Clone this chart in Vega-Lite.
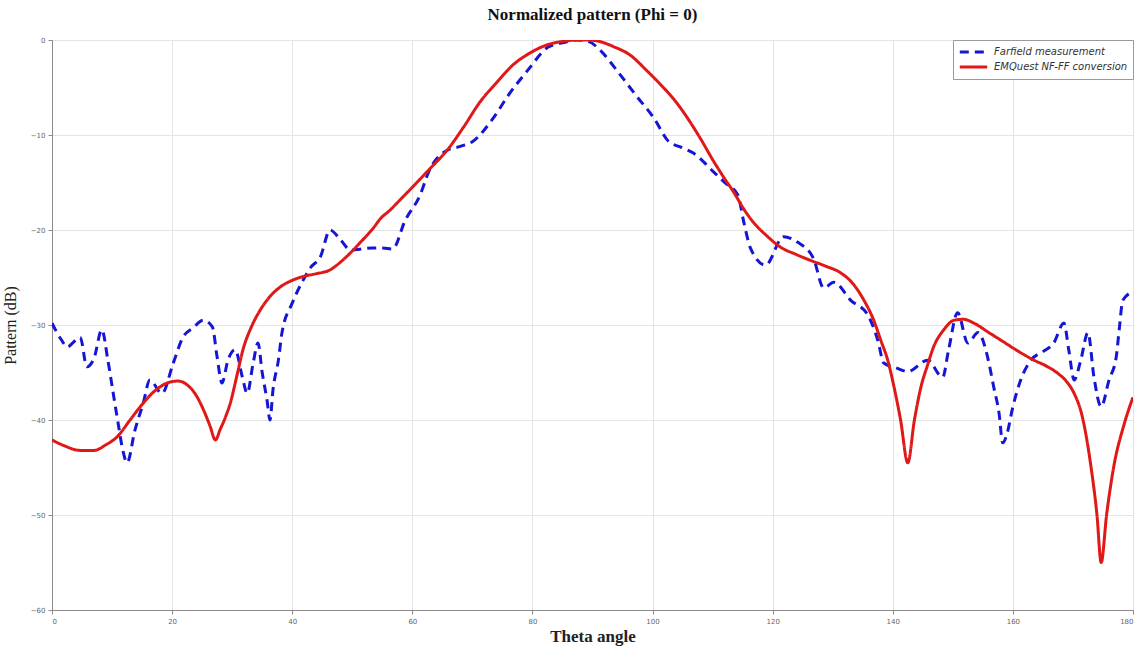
{
  "$schema": "https://vega.github.io/schema/vega-lite/v6.json",
  "autosize": "none",
  "width": 1081,
  "height": 570,
  "padding": {"left": 52, "top": 40, "right": 10, "bottom": 42},
  "background": "white",
  "title": {
    "text": "Normalized pattern (Phi = 0)",
    "font": "Liberation Serif",
    "fontSize": 17,
    "fontWeight": "bold",
    "color": "#111",
    "anchor": "middle",
    "offset": 12
  },
  "config": {
    "view": {"stroke": "#9a9a9a", "strokeWidth": 1},
    "axis": {
      "domainColor": "#8a8a8a",
      "gridColor": "#e4e4e4",
      "tickColor": "#8a8a8a",
      "labelColor": "#666",
      "labelFont": "DejaVu Sans",
      "labelFontSize": 7,
      "titleFont": "Liberation Serif",
      "titleColor": "#222"
    },
    "legend": {
      "fillColor": "white",
      "strokeColor": "#9a9a9a",
      "padding": 5,
      "rowPadding": 1,
      "clipHeight": 14,
      "symbolType": "stroke",
      "symbolSize": 750,
      "symbolStrokeWidth": 3,
      "labelFont": "DejaVu Sans",
      "labelFontSize": 10,
      "labelFontStyle": "italic",
      "labelColor": "#333",
      "labelOffset": 5
    }
  },
  "data": {
    "values": [
      {"series": "Farfield measurement", "theta": 0, "db": -29.8},
      {"series": "Farfield measurement", "theta": 1.5, "db": -31.5},
      {"series": "Farfield measurement", "theta": 2.5, "db": -32.3},
      {"series": "Farfield measurement", "theta": 4.7, "db": -31.3},
      {"series": "Farfield measurement", "theta": 5.8, "db": -34.4},
      {"series": "Farfield measurement", "theta": 7, "db": -33.5},
      {"series": "Farfield measurement", "theta": 8.3, "db": -30.5},
      {"series": "Farfield measurement", "theta": 9.3, "db": -33.7},
      {"series": "Farfield measurement", "theta": 10.2, "db": -37.2},
      {"series": "Farfield measurement", "theta": 11, "db": -40.3},
      {"series": "Farfield measurement", "theta": 11.8, "db": -43.2},
      {"series": "Farfield measurement", "theta": 12.5, "db": -44.5},
      {"series": "Farfield measurement", "theta": 13.8, "db": -41.1},
      {"series": "Farfield measurement", "theta": 15.2, "db": -38.2},
      {"series": "Farfield measurement", "theta": 16.3, "db": -35.8},
      {"series": "Farfield measurement", "theta": 18.3, "db": -37.2},
      {"series": "Farfield measurement", "theta": 20.2, "db": -34},
      {"series": "Farfield measurement", "theta": 21.8, "db": -31.3},
      {"series": "Farfield measurement", "theta": 23.5, "db": -30.3},
      {"series": "Farfield measurement", "theta": 25.2, "db": -29.5},
      {"series": "Farfield measurement", "theta": 26.7, "db": -30.2},
      {"series": "Farfield measurement", "theta": 27.5, "db": -33.4},
      {"series": "Farfield measurement", "theta": 28.3, "db": -36.1},
      {"series": "Farfield measurement", "theta": 29.3, "db": -33.7},
      {"series": "Farfield measurement", "theta": 30.5, "db": -32.6},
      {"series": "Farfield measurement", "theta": 31.7, "db": -35.5},
      {"series": "Farfield measurement", "theta": 32.5, "db": -37.2},
      {"series": "Farfield measurement", "theta": 33.5, "db": -34},
      {"series": "Farfield measurement", "theta": 34.3, "db": -31.9},
      {"series": "Farfield measurement", "theta": 35, "db": -35},
      {"series": "Farfield measurement", "theta": 35.8, "db": -37.9},
      {"series": "Farfield measurement", "theta": 36.3, "db": -40},
      {"series": "Farfield measurement", "theta": 36.8, "db": -36.8},
      {"series": "Farfield measurement", "theta": 37.7, "db": -33.7},
      {"series": "Farfield measurement", "theta": 38.3, "db": -30.8},
      {"series": "Farfield measurement", "theta": 40, "db": -27.7},
      {"series": "Farfield measurement", "theta": 41.8, "db": -25.3},
      {"series": "Farfield measurement", "theta": 43, "db": -24},
      {"series": "Farfield measurement", "theta": 44.7, "db": -22.8},
      {"series": "Farfield measurement", "theta": 46.3, "db": -20},
      {"series": "Farfield measurement", "theta": 48, "db": -21},
      {"series": "Farfield measurement", "theta": 49.7, "db": -22.1},
      {"series": "Farfield measurement", "theta": 51.5, "db": -22},
      {"series": "Farfield measurement", "theta": 53.3, "db": -21.9},
      {"series": "Farfield measurement", "theta": 55, "db": -21.9},
      {"series": "Farfield measurement", "theta": 56.7, "db": -22},
      {"series": "Farfield measurement", "theta": 58.8, "db": -19},
      {"series": "Farfield measurement", "theta": 61.3, "db": -16.3},
      {"series": "Farfield measurement", "theta": 62.7, "db": -13.9},
      {"series": "Farfield measurement", "theta": 65.8, "db": -11.6},
      {"series": "Farfield measurement", "theta": 68, "db": -11.2},
      {"series": "Farfield measurement", "theta": 70, "db": -10.7},
      {"series": "Farfield measurement", "theta": 73.5, "db": -8.2},
      {"series": "Farfield measurement", "theta": 76, "db": -5.8},
      {"series": "Farfield measurement", "theta": 79.2, "db": -3.2},
      {"series": "Farfield measurement", "theta": 82.5, "db": -0.8},
      {"series": "Farfield measurement", "theta": 85, "db": -0.3},
      {"series": "Farfield measurement", "theta": 87.5, "db": 0},
      {"series": "Farfield measurement", "theta": 89.5, "db": -0.2},
      {"series": "Farfield measurement", "theta": 91.3, "db": -1.1},
      {"series": "Farfield measurement", "theta": 94.3, "db": -3.4},
      {"series": "Farfield measurement", "theta": 97.2, "db": -5.8},
      {"series": "Farfield measurement", "theta": 100.2, "db": -8.2},
      {"series": "Farfield measurement", "theta": 102.7, "db": -10.7},
      {"series": "Farfield measurement", "theta": 104.8, "db": -11.3},
      {"series": "Farfield measurement", "theta": 106.8, "db": -11.9},
      {"series": "Farfield measurement", "theta": 110.2, "db": -13.9},
      {"series": "Farfield measurement", "theta": 112, "db": -15},
      {"series": "Farfield measurement", "theta": 114.2, "db": -16.3},
      {"series": "Farfield measurement", "theta": 115.2, "db": -19.2},
      {"series": "Farfield measurement", "theta": 116.3, "db": -21.9},
      {"series": "Farfield measurement", "theta": 118.8, "db": -23.7},
      {"series": "Farfield measurement", "theta": 121.8, "db": -20.7},
      {"series": "Farfield measurement", "theta": 124.2, "db": -21.3},
      {"series": "Farfield measurement", "theta": 126.8, "db": -23},
      {"series": "Farfield measurement", "theta": 128.5, "db": -26.1},
      {"series": "Farfield measurement", "theta": 130.2, "db": -25.5},
      {"series": "Farfield measurement", "theta": 133, "db": -27.4},
      {"series": "Farfield measurement", "theta": 135.8, "db": -28.9},
      {"series": "Farfield measurement", "theta": 137.5, "db": -31.6},
      {"series": "Farfield measurement", "theta": 138.5, "db": -34},
      {"series": "Farfield measurement", "theta": 140.5, "db": -34.5},
      {"series": "Farfield measurement", "theta": 142.5, "db": -34.9},
      {"series": "Farfield measurement", "theta": 145.8, "db": -33.7},
      {"series": "Farfield measurement", "theta": 148.3, "db": -35.5},
      {"series": "Farfield measurement", "theta": 149.3, "db": -32.6},
      {"series": "Farfield measurement", "theta": 150.8, "db": -28.7},
      {"series": "Farfield measurement", "theta": 152.5, "db": -31.9},
      {"series": "Farfield measurement", "theta": 154.2, "db": -30.8},
      {"series": "Farfield measurement", "theta": 155.8, "db": -33.4},
      {"series": "Farfield measurement", "theta": 156.8, "db": -36.5},
      {"series": "Farfield measurement", "theta": 157.7, "db": -39.3},
      {"series": "Farfield measurement", "theta": 158.3, "db": -42.4},
      {"series": "Farfield measurement", "theta": 159, "db": -41.5},
      {"series": "Farfield measurement", "theta": 160, "db": -38.6},
      {"series": "Farfield measurement", "theta": 161.3, "db": -35.8},
      {"series": "Farfield measurement", "theta": 163, "db": -33.7},
      {"series": "Farfield measurement", "theta": 165, "db": -32.8},
      {"series": "Farfield measurement", "theta": 166.8, "db": -31.9},
      {"series": "Farfield measurement", "theta": 168.5, "db": -29.8},
      {"series": "Farfield measurement", "theta": 169.3, "db": -32.6},
      {"series": "Farfield measurement", "theta": 170.2, "db": -35.8},
      {"series": "Farfield measurement", "theta": 171.3, "db": -33.7},
      {"series": "Farfield measurement", "theta": 172.5, "db": -30.8},
      {"series": "Farfield measurement", "theta": 173.5, "db": -35.5},
      {"series": "Farfield measurement", "theta": 174.7, "db": -38.6},
      {"series": "Farfield measurement", "theta": 176, "db": -35.8},
      {"series": "Farfield measurement", "theta": 177.2, "db": -33.4},
      {"series": "Farfield measurement", "theta": 177.7, "db": -30.5},
      {"series": "Farfield measurement", "theta": 178.3, "db": -27.4},
      {"series": "Farfield measurement", "theta": 180, "db": -26.5},

      {"series": "EMQuest NF-FF conversion", "theta": 0, "db": -42.1},
      {"series": "EMQuest NF-FF conversion", "theta": 2, "db": -42.7},
      {"series": "EMQuest NF-FF conversion", "theta": 4.7, "db": -43.2},
      {"series": "EMQuest NF-FF conversion", "theta": 7, "db": -43.2},
      {"series": "EMQuest NF-FF conversion", "theta": 9, "db": -42.6},
      {"series": "EMQuest NF-FF conversion", "theta": 10.8, "db": -41.8},
      {"series": "EMQuest NF-FF conversion", "theta": 13, "db": -40},
      {"series": "EMQuest NF-FF conversion", "theta": 14.7, "db": -38.6},
      {"series": "EMQuest NF-FF conversion", "theta": 17, "db": -37},
      {"series": "EMQuest NF-FF conversion", "theta": 19.7, "db": -36},
      {"series": "EMQuest NF-FF conversion", "theta": 21, "db": -35.9},
      {"series": "EMQuest NF-FF conversion", "theta": 22.5, "db": -36.3},
      {"series": "EMQuest NF-FF conversion", "theta": 24, "db": -37.4},
      {"series": "EMQuest NF-FF conversion", "theta": 25.2, "db": -38.9},
      {"series": "EMQuest NF-FF conversion", "theta": 26.3, "db": -40.6},
      {"series": "EMQuest NF-FF conversion", "theta": 27.2, "db": -42.1},
      {"series": "EMQuest NF-FF conversion", "theta": 28, "db": -41},
      {"series": "EMQuest NF-FF conversion", "theta": 29, "db": -39.5},
      {"series": "EMQuest NF-FF conversion", "theta": 29.7, "db": -38.2},
      {"series": "EMQuest NF-FF conversion", "theta": 30.8, "db": -35.3},
      {"series": "EMQuest NF-FF conversion", "theta": 31.8, "db": -32.6},
      {"series": "EMQuest NF-FF conversion", "theta": 33.2, "db": -30.2},
      {"series": "EMQuest NF-FF conversion", "theta": 34.7, "db": -28.4},
      {"series": "EMQuest NF-FF conversion", "theta": 36.3, "db": -27},
      {"series": "EMQuest NF-FF conversion", "theta": 38, "db": -26},
      {"series": "EMQuest NF-FF conversion", "theta": 40, "db": -25.3},
      {"series": "EMQuest NF-FF conversion", "theta": 41.8, "db": -24.9},
      {"series": "EMQuest NF-FF conversion", "theta": 44, "db": -24.6},
      {"series": "EMQuest NF-FF conversion", "theta": 46.3, "db": -24.2},
      {"series": "EMQuest NF-FF conversion", "theta": 48, "db": -23.4},
      {"series": "EMQuest NF-FF conversion", "theta": 49.7, "db": -22.4},
      {"series": "EMQuest NF-FF conversion", "theta": 51.5, "db": -21.2},
      {"series": "EMQuest NF-FF conversion", "theta": 53.5, "db": -19.8},
      {"series": "EMQuest NF-FF conversion", "theta": 54.7, "db": -18.8},
      {"series": "EMQuest NF-FF conversion", "theta": 56.3, "db": -17.9},
      {"series": "EMQuest NF-FF conversion", "theta": 58, "db": -16.8},
      {"series": "EMQuest NF-FF conversion", "theta": 60, "db": -15.5},
      {"series": "EMQuest NF-FF conversion", "theta": 63, "db": -13.5},
      {"series": "EMQuest NF-FF conversion", "theta": 65.8, "db": -11.6},
      {"series": "EMQuest NF-FF conversion", "theta": 68.5, "db": -9.2},
      {"series": "EMQuest NF-FF conversion", "theta": 71.3, "db": -6.5},
      {"series": "EMQuest NF-FF conversion", "theta": 74, "db": -4.5},
      {"series": "EMQuest NF-FF conversion", "theta": 76.8, "db": -2.6},
      {"series": "EMQuest NF-FF conversion", "theta": 79.5, "db": -1.4},
      {"series": "EMQuest NF-FF conversion", "theta": 82.5, "db": -0.5},
      {"series": "EMQuest NF-FF conversion", "theta": 85, "db": -0.15},
      {"series": "EMQuest NF-FF conversion", "theta": 87.5, "db": 0},
      {"series": "EMQuest NF-FF conversion", "theta": 89, "db": 0},
      {"series": "EMQuest NF-FF conversion", "theta": 90.8, "db": -0.1},
      {"series": "EMQuest NF-FF conversion", "theta": 93.5, "db": -0.7},
      {"series": "EMQuest NF-FF conversion", "theta": 96.3, "db": -1.6},
      {"series": "EMQuest NF-FF conversion", "theta": 99, "db": -3.2},
      {"series": "EMQuest NF-FF conversion", "theta": 101.8, "db": -5},
      {"series": "EMQuest NF-FF conversion", "theta": 104, "db": -6.6},
      {"series": "EMQuest NF-FF conversion", "theta": 105.8, "db": -8.2},
      {"series": "EMQuest NF-FF conversion", "theta": 108, "db": -10.4},
      {"series": "EMQuest NF-FF conversion", "theta": 110.2, "db": -12.8},
      {"series": "EMQuest NF-FF conversion", "theta": 112, "db": -14.6},
      {"series": "EMQuest NF-FF conversion", "theta": 113.5, "db": -16},
      {"series": "EMQuest NF-FF conversion", "theta": 115.2, "db": -17.8},
      {"series": "EMQuest NF-FF conversion", "theta": 116.8, "db": -19.2},
      {"series": "EMQuest NF-FF conversion", "theta": 119, "db": -20.6},
      {"series": "EMQuest NF-FF conversion", "theta": 121.3, "db": -21.8},
      {"series": "EMQuest NF-FF conversion", "theta": 124, "db": -22.6},
      {"series": "EMQuest NF-FF conversion", "theta": 126.3, "db": -23.2},
      {"series": "EMQuest NF-FF conversion", "theta": 128.8, "db": -23.8},
      {"series": "EMQuest NF-FF conversion", "theta": 131.3, "db": -24.5},
      {"series": "EMQuest NF-FF conversion", "theta": 133.3, "db": -25.6},
      {"series": "EMQuest NF-FF conversion", "theta": 135.2, "db": -27.4},
      {"series": "EMQuest NF-FF conversion", "theta": 136.7, "db": -29.3},
      {"series": "EMQuest NF-FF conversion", "theta": 138, "db": -31.6},
      {"series": "EMQuest NF-FF conversion", "theta": 139.2, "db": -33.8},
      {"series": "EMQuest NF-FF conversion", "theta": 140.2, "db": -36.5},
      {"series": "EMQuest NF-FF conversion", "theta": 141.3, "db": -40},
      {"series": "EMQuest NF-FF conversion", "theta": 142.5, "db": -44.5},
      {"series": "EMQuest NF-FF conversion", "theta": 143.6, "db": -40},
      {"series": "EMQuest NF-FF conversion", "theta": 144.7, "db": -36.5},
      {"series": "EMQuest NF-FF conversion", "theta": 145.8, "db": -34.2},
      {"series": "EMQuest NF-FF conversion", "theta": 146.8, "db": -32.3},
      {"series": "EMQuest NF-FF conversion", "theta": 148.5, "db": -30.5},
      {"series": "EMQuest NF-FF conversion", "theta": 150.2, "db": -29.5},
      {"series": "EMQuest NF-FF conversion", "theta": 151.8, "db": -29.4},
      {"series": "EMQuest NF-FF conversion", "theta": 153.5, "db": -29.8},
      {"series": "EMQuest NF-FF conversion", "theta": 156, "db": -30.8},
      {"series": "EMQuest NF-FF conversion", "theta": 158, "db": -31.6},
      {"series": "EMQuest NF-FF conversion", "theta": 161, "db": -32.8},
      {"series": "EMQuest NF-FF conversion", "theta": 163.5, "db": -33.7},
      {"series": "EMQuest NF-FF conversion", "theta": 165.5, "db": -34.3},
      {"series": "EMQuest NF-FF conversion", "theta": 167.5, "db": -35.1},
      {"series": "EMQuest NF-FF conversion", "theta": 169, "db": -36},
      {"series": "EMQuest NF-FF conversion", "theta": 170.2, "db": -37.2},
      {"series": "EMQuest NF-FF conversion", "theta": 171.5, "db": -39.5},
      {"series": "EMQuest NF-FF conversion", "theta": 173, "db": -44.9},
      {"series": "EMQuest NF-FF conversion", "theta": 174, "db": -50},
      {"series": "EMQuest NF-FF conversion", "theta": 174.7, "db": -55},
      {"series": "EMQuest NF-FF conversion", "theta": 175.6, "db": -50},
      {"series": "EMQuest NF-FF conversion", "theta": 176.8, "db": -44.9},
      {"series": "EMQuest NF-FF conversion", "theta": 178.5, "db": -40.5},
      {"series": "EMQuest NF-FF conversion", "theta": 180, "db": -37.6}
    ]
  },
  "mark": {"type": "line", "strokeWidth": 3, "strokeCap": "butt", "interpolate": "monotone", "clip": true},
  "encoding": {
    "x": {
      "field": "theta",
      "type": "quantitative",
      "scale": {"domain": [0, 180], "nice": false, "zero": false},
      "axis": {
        "title": "Theta angle",
        "titleFontSize": 17,
        "titleFontWeight": "bold",
        "titlePadding": 4,
        "values": [0, 20, 40, 60, 80, 100, 120, 140, 160, 180],
        "tickSize": 4,
        "labelPadding": 3,
        "grid": true
      }
    },
    "y": {
      "field": "db",
      "type": "quantitative",
      "scale": {"domain": [-60, 0], "nice": false},
      "axis": {
        "title": "Pattern (dB)",
        "titleFontSize": 16,
        "titleFontWeight": "normal",
        "titlePadding": 12,
        "values": [0, -10, -20, -30, -40, -50, -60],
        "tickSize": 4,
        "labelPadding": 3,
        "grid": true
      }
    },
    "color": {
      "field": "series",
      "type": "nominal",
      "scale": {
        "domain": ["Farfield measurement", "EMQuest NF-FF conversion"],
        "range": ["#1515d6", "#e01818"]
      },
      "legend": {"title": null, "orient": "top-right", "offset": 0}
    },
    "strokeDash": {
      "field": "series",
      "type": "nominal",
      "scale": {
        "domain": ["Farfield measurement", "EMQuest NF-FF conversion"],
        "range": [[9, 6], [1, 0]]
      },
      "legend": {"title": null, "orient": "top-right", "offset": 0}
    }
  }
}
